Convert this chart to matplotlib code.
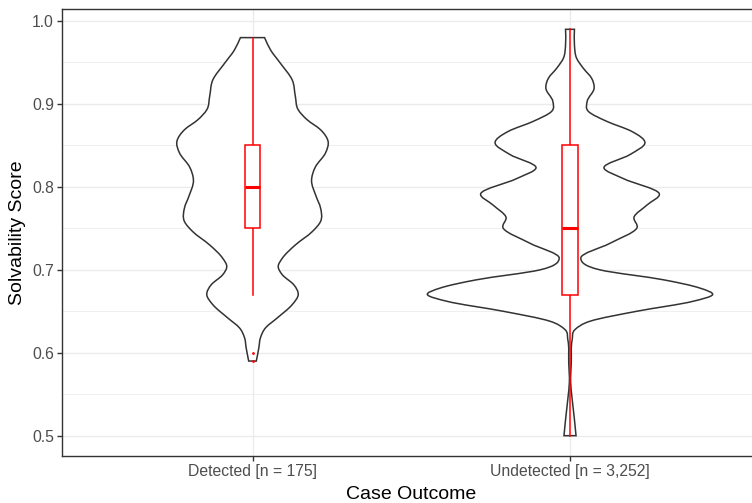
import numpy as np
import matplotlib.pyplot as plt
from matplotlib.path import Path
from matplotlib.patches import PathPatch, Rectangle

plt.rcParams['font.family'] = ['Liberation Sans', 'DejaVu Sans']

categories = ['Detected [n = 175]', 'Undetected [n = 3,252]']

# violin outlines: score levels (top -> bottom) and half-width of the density
detected_score = [0.98, 0.965, 0.949, 0.929, 0.909, 0.893, 0.881, 0.869, 0.855,
                  0.841, 0.824, 0.808, 0.788, 0.775, 0.758, 0.746, 0.730, 0.714,
                  0.704, 0.694, 0.682, 0.670, 0.658, 0.642, 0.630, 0.618, 0.606,
                  0.59]
detected_width = [0.038, 0.057, 0.088, 0.125, 0.135, 0.144, 0.172, 0.214, 0.238,
                  0.230, 0.198, 0.186, 0.201, 0.214, 0.214, 0.188, 0.135, 0.094,
                  0.081, 0.094, 0.130, 0.144, 0.125, 0.078, 0.041, 0.025, 0.020,
                  0.012]

undetected_score = [0.99, 0.971, 0.955, 0.943, 0.931, 0.919, 0.903, 0.891, 0.879,
                    0.867, 0.853, 0.839, 0.823, 0.810, 0.792, 0.778, 0.764, 0.750,
                    0.732, 0.714, 0.700, 0.688, 0.678, 0.670, 0.662, 0.650, 0.638,
                    0.628, 0.616, 0.588, 0.564, 0.547, 0.523, 0.50]
undetected_width = [0.014, 0.014, 0.021, 0.042, 0.068, 0.076, 0.054, 0.058, 0.116,
                    0.194, 0.236, 0.189, 0.107, 0.168, 0.281, 0.242, 0.202, 0.210,
                    0.126, 0.034, 0.094, 0.294, 0.409, 0.449, 0.387, 0.210, 0.063,
                    0.016, 0.007, 0.004, 0.002, 0.006, 0.013, 0.019]

# boxplot summaries: lower whisker, q1, median, q3, upper whisker
box_low = [0.67, 0.50]
box_q1 = [0.75, 0.67]
box_med = [0.80, 0.75]
box_q3 = [0.85, 0.85]
box_high = [0.98, 0.99]
outliers = [[0.60, 0.59], []]

violins = [(detected_score, detected_width), (undetected_score, undetected_width)]


def side_path(y, x):
    # cubic Hermite curve with x as a function of y, written as Bezier segments
    y = np.asarray(y, dtype=float)
    x = np.asarray(x, dtype=float)
    n = len(y)
    h = np.diff(y)
    d = np.diff(x) / h
    m = np.empty(n)
    m[0], m[-1] = d[0], d[-1]
    for i in range(1, n - 1):
        m[i] = (d[i] * h[i - 1] + d[i - 1] * h[i]) / (h[i - 1] + h[i])
    verts = [(x[0], y[0])]
    codes = [Path.MOVETO]
    for i in range(n - 1):
        verts += [(x[i] + m[i] * h[i] / 3, y[i] + h[i] / 3),
                  (x[i + 1] - m[i + 1] * h[i] / 3, y[i + 1] - h[i] / 3),
                  (x[i + 1], y[i + 1])]
        codes += [Path.CURVE4] * 3
    return verts, codes


def violin_patch(center, score, width):
    score = np.asarray(score)
    width = np.asarray(width)
    v1, c1 = side_path(score, center - width)
    v2, c2 = side_path(score[::-1], center + width[::-1])
    c2[0] = Path.LINETO
    verts = v1 + v2 + [v1[0]]
    codes = c1 + c2 + [Path.CLOSEPOLY]
    return PathPatch(Path(verts, codes), facecolor='white', edgecolor='#333333',
                     linewidth=1.1, zorder=3)


fig = plt.figure(figsize=(7.52, 5.03), dpi=100)
ax = fig.add_axes([62 / 752, 47 / 503, (760.5 - 62) / 752, (456 - 9) / 503])

positions = np.arange(1, len(categories) + 1)
box_half = 0.025
for i, pos in enumerate(positions):
    ax.add_patch(violin_patch(pos, *violins[i]))
    ax.plot([pos, pos], [box_q3[i], box_high[i]], color='red', lw=1.1, zorder=4)
    ax.plot([pos, pos], [box_low[i], box_q1[i]], color='red', lw=1.1, zorder=4)
    ax.add_patch(Rectangle((pos - box_half, box_q1[i]), 2 * box_half,
                           box_q3[i] - box_q1[i], facecolor='white',
                           edgecolor='red', lw=1.1, zorder=4))
    ax.plot([pos - box_half, pos + box_half], [box_med[i], box_med[i]],
            color='red', lw=2.2, solid_capstyle='butt', zorder=5)
    if outliers[i]:
        ax.scatter([pos] * len(outliers[i]), outliers[i], s=4, color='red',
                   zorder=6, linewidths=0)

ax.set_xlim(0.4, 2.6)
ax.set_ylim(0.4755, 1.0145)
ax.set_xticks(positions)
ax.set_xticklabels(categories)
ax.set_yticks([0.5, 0.6, 0.7, 0.8, 0.9, 1.0])
ax.set_yticks([0.55, 0.65, 0.75, 0.85, 0.95], minor=True)
ax.yaxis.set_major_formatter(plt.FormatStrFormatter('%.1f'))

ax.grid(True, which='major', color='#EBEBEB', lw=1.0, zorder=0)
ax.grid(True, which='minor', axis='y', color='#EBEBEB', lw=0.55, zorder=0)
ax.set_axisbelow(True)

for s in ax.spines.values():
    s.set_color('#333333')
    s.set_linewidth(1.0)

ax.tick_params(which='major', length=3.8, width=1.0, color='#333333',
               labelcolor='#4D4D4D', labelsize=11.3, pad=2)
ax.tick_params(which='minor', length=0)

ax.set_xlabel('Case Outcome', fontsize=14, color='black', labelpad=5)
ax.set_ylabel('Solvability Score', fontsize=14, color='black', labelpad=4)

fig.savefig('out.png', dpi=100)
